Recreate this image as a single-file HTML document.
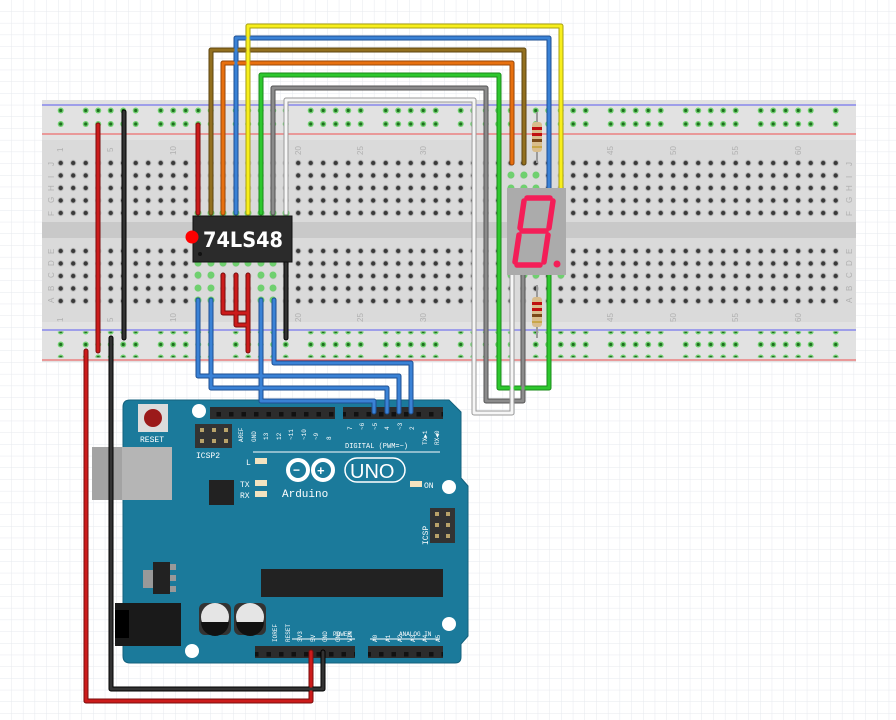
<!DOCTYPE html>
<html><head><meta charset="utf-8"><style>
html,body{margin:0;padding:0;background:#fff}
svg{display:block}
</style></head><body>
<svg width="896" height="720" viewBox="0 0 896 720" xmlns="http://www.w3.org/2000/svg" font-family="Liberation Mono, monospace">
<defs>
<pattern id="grid" width="11.7" height="11.7" patternUnits="userSpaceOnUse">
<path d="M11.7 0V11.7H0" fill="none" stroke="#e6e9ee" stroke-width="1"/>
</pattern>
<pattern id="holes" x="54.45" y="156.75" width="12.5" height="12.5" patternUnits="userSpaceOnUse">
<circle cx="6.25" cy="6.25" r="3.2" fill="#bdbdbd"/><circle cx="6.25" cy="6.25" r="2.2" fill="#3a3a3a"/>
</pattern>
<pattern id="holes2" x="54.45" y="244.75" width="12.5" height="12.5" patternUnits="userSpaceOnUse">
<circle cx="6.25" cy="6.25" r="3.2" fill="#bdbdbd"/><circle cx="6.25" cy="6.25" r="2.2" fill="#3a3a3a"/>
</pattern>
<pattern id="rail" x="79.45" y="0" width="75" height="13" patternUnits="userSpaceOnUse">
<g fill="#6fd06f"><circle cx="6.25" cy="6.5" r="3"/><circle cx="18.75" cy="6.5" r="3"/><circle cx="31.25" cy="6.5" r="3"/><circle cx="43.75" cy="6.5" r="3"/><circle cx="56.25" cy="6.5" r="3"/></g>
<g fill="#1f6e1f"><circle cx="6.25" cy="6.5" r="1.6"/><circle cx="18.75" cy="6.5" r="1.6"/><circle cx="31.25" cy="6.5" r="1.6"/><circle cx="43.75" cy="6.5" r="1.6"/><circle cx="56.25" cy="6.5" r="1.6"/></g>
</pattern>
<pattern id="hdr" width="12.5" height="12" patternUnits="userSpaceOnUse">
<rect width="12.5" height="12" fill="#2c2c2c"/><rect x="4" y="4" width="4.5" height="4.5" fill="#111"/>
</pattern>
</defs>
<rect width="896" height="720" fill="#fff"/>
<rect width="896" height="720" fill="url(#grid)"/>

<rect x="42" y="100" width="814" height="262" fill="#dadada"/>
<rect x="42" y="100" width="814" height="40" fill="#e2e2e2"/>
<rect x="42" y="322" width="814" height="40" fill="#e2e2e2"/>
<rect x="42" y="222" width="814" height="16" fill="#c9c9c9"/>
<line x1="42" y1="105" x2="856" y2="105" stroke="#5a5af0" stroke-width="1"/>
<line x1="42" y1="134" x2="856" y2="134" stroke="#f05050" stroke-width="1"/>
<line x1="42" y1="330" x2="856" y2="330" stroke="#5a5af0" stroke-width="1"/>
<line x1="42" y1="360" x2="856" y2="360" stroke="#f05050" stroke-width="1"/>
<rect x="54" y="105" width="790" height="13" fill="url(#rail)"/>
<rect x="54" y="118" width="790" height="13" fill="url(#rail)" transform="translate(0,0.5)"/>
<rect x="54" y="331.5" width="790" height="13" fill="url(#rail)"/>
<rect x="54" y="344.5" width="790" height="13" fill="url(#rail)"/>
<rect x="54.45" y="156.75" width="787.5" height="62.5" fill="url(#holes)"/>
<rect x="54.45" y="244.75" width="787.5" height="62.5" fill="url(#holes2)"/>
<g fill="#6fd06f">
<circle cx="198" cy="213" r="3.5"/><circle cx="211" cy="213" r="3.5"/><circle cx="223" cy="213" r="3.5"/><circle cx="236" cy="213" r="3.5"/><circle cx="248" cy="213" r="3.5"/><circle cx="261" cy="213" r="3.5"/><circle cx="273" cy="213" r="3.5"/><circle cx="286" cy="213" r="3.5"/>
<circle cx="198" cy="263" r="3.5"/><circle cx="211" cy="263" r="3.5"/><circle cx="223" cy="263" r="3.5"/><circle cx="236" cy="263" r="3.5"/><circle cx="248" cy="263" r="3.5"/><circle cx="261" cy="263" r="3.5"/><circle cx="273" cy="263" r="3.5"/>
<circle cx="198" cy="275" r="3.5"/><circle cx="211" cy="275" r="3.5"/><circle cx="261" cy="275" r="3.5"/><circle cx="273" cy="275" r="3.5"/>
<circle cx="198" cy="288" r="3.5"/><circle cx="211" cy="288" r="3.5"/><circle cx="261" cy="288" r="3.5"/><circle cx="273" cy="288" r="3.5"/>
<circle cx="198" cy="300" r="3.5"/><circle cx="211" cy="300" r="3.5"/><circle cx="261" cy="300" r="3.5"/><circle cx="273" cy="300" r="3.5"/>
<circle cx="511" cy="175" r="3.5"/><circle cx="524" cy="175" r="3.5"/><circle cx="536" cy="175" r="3.5"/>
<circle cx="511" cy="188" r="3.5"/><circle cx="524" cy="188" r="3.5"/><circle cx="536" cy="188" r="3.5"/>
<circle cx="511" cy="275" r="3.5"/><circle cx="524" cy="275" r="3.5"/><circle cx="536" cy="275" r="3.5"/><circle cx="561" cy="275" r="3.5"/>
</g>
<g fill="#b0b0b0" font-size="8" font-family="Liberation Sans,sans-serif">
<text transform="translate(63,152) rotate(-90)">1</text>
<text transform="translate(113,152) rotate(-90)">5</text>
<text transform="translate(176,155) rotate(-90)">10</text>
<text transform="translate(301,155) rotate(-90)">20</text>
<text transform="translate(363,155) rotate(-90)">25</text>
<text transform="translate(426,155) rotate(-90)">30</text>
<text transform="translate(613,155) rotate(-90)">45</text>
<text transform="translate(676,155) rotate(-90)">50</text>
<text transform="translate(738,155) rotate(-90)">55</text>
<text transform="translate(801,155) rotate(-90)">60</text>
<text transform="translate(63,322) rotate(-90)">1</text>
<text transform="translate(113,322) rotate(-90)">5</text>
<text transform="translate(176,322) rotate(-90)">10</text>
<text transform="translate(301,322) rotate(-90)">20</text>
<text transform="translate(363,322) rotate(-90)">25</text>
<text transform="translate(426,322) rotate(-90)">30</text>
<text transform="translate(613,322) rotate(-90)">45</text>
<text transform="translate(676,322) rotate(-90)">50</text>
<text transform="translate(738,322) rotate(-90)">55</text>
<text transform="translate(801,322) rotate(-90)">60</text>
<text transform="translate(54,166) rotate(-90)">J</text><text transform="translate(54,178) rotate(-90)">I</text><text transform="translate(54,191) rotate(-90)">H</text><text transform="translate(54,203) rotate(-90)">G</text><text transform="translate(54,216) rotate(-90)">F</text>
<text transform="translate(54,254) rotate(-90)">E</text><text transform="translate(54,266) rotate(-90)">D</text><text transform="translate(54,278) rotate(-90)">C</text><text transform="translate(54,291) rotate(-90)">B</text><text transform="translate(54,303) rotate(-90)">A</text>
<text transform="translate(852,166) rotate(-90)">J</text><text transform="translate(852,178) rotate(-90)">I</text><text transform="translate(852,191) rotate(-90)">H</text><text transform="translate(852,203) rotate(-90)">G</text><text transform="translate(852,216) rotate(-90)">F</text>
<text transform="translate(852,254) rotate(-90)">E</text><text transform="translate(852,266) rotate(-90)">D</text><text transform="translate(852,278) rotate(-90)">C</text><text transform="translate(852,291) rotate(-90)">B</text><text transform="translate(852,303) rotate(-90)">A</text>
</g>

<path d="M130 400 H449 L461 412 V478 L468 486 V636 L461 644 V657 Q461 663 455 663 H130 Q123 663 123 656 V407 Q123 400 130 400 Z" fill="#1b7a9b" stroke="#14627e" stroke-width="1"/>
<rect x="92" y="447" width="80" height="53" fill="#b5b5b5"/>
<rect x="92" y="447" width="30" height="53" fill="#a3a3a3"/>
<rect x="115" y="603" width="66" height="43" fill="#1a1a1a"/>
<rect x="115" y="610" width="14" height="28" fill="#000"/>
<rect x="138" y="404" width="30" height="28" fill="#dcdcdc"/>
<circle cx="153" cy="418" r="9" fill="#9b1a1a"/>
<text x="140" y="442" font-size="8" fill="#fff">RESET</text>
<circle cx="199" cy="411" r="7" fill="#fff"/>
<circle cx="449" cy="487" r="7" fill="#fff"/>
<circle cx="449" cy="624" r="7" fill="#fff"/>
<circle cx="192" cy="651" r="7" fill="#fff"/>
<rect x="210" y="407" width="125" height="12" fill="url(#hdr)"/>
<rect x="343" y="407" width="100" height="12" fill="url(#hdr)"/>
<rect x="255" y="646" width="100" height="12" fill="url(#hdr)"/>
<rect x="368" y="646" width="75" height="12" fill="url(#hdr)"/>
<rect x="195" y="424" width="37" height="24" fill="#333"/>
<g fill="#b9a36a"><rect x="200" y="428" width="4" height="4"/><rect x="212" y="428" width="4" height="4"/><rect x="224" y="428" width="4" height="4"/><rect x="200" y="439" width="4" height="4"/><rect x="212" y="439" width="4" height="4"/><rect x="224" y="439" width="4" height="4"/></g>
<text x="196" y="458" font-size="8" fill="#fff">ICSP2</text>
<rect x="430" y="508" width="25" height="35" fill="#333"/>
<g fill="#b9a36a"><rect x="435" y="512" width="4" height="4"/><rect x="446" y="512" width="4" height="4"/><rect x="435" y="523" width="4" height="4"/><rect x="446" y="523" width="4" height="4"/><rect x="435" y="534" width="4" height="4"/><rect x="446" y="534" width="4" height="4"/></g>
<text transform="translate(428,545) rotate(-90)" font-size="8" fill="#fff">ICSP</text>
<rect x="209" y="480" width="25" height="25" fill="#222"/>
<rect x="261" y="569" width="182" height="28" fill="#222"/>
<rect x="143" y="570" width="12" height="18" fill="#999"/>
<rect x="153" y="562" width="17" height="32" fill="#222"/>
<rect x="170" y="564" width="6" height="6" fill="#999"/><rect x="170" y="575" width="6" height="6" fill="#999"/><rect x="170" y="586" width="6" height="6" fill="#999"/>
<rect x="199" y="603" width="32" height="32" rx="6" fill="#333"/>
<rect x="234" y="603" width="32" height="32" rx="6" fill="#333"/>
<circle cx="215" cy="617" r="14" fill="#e5e5e5"/><path d="M201 622 A14 14 0 0 0 229 622 Z" fill="#111"/>
<circle cx="250" cy="617" r="14" fill="#e5e5e5"/><path d="M236 622 A14 14 0 0 0 264 622 Z" fill="#111"/>
<line x1="253" y1="452" x2="440" y2="452" stroke="#fff" stroke-width="1"/>
<text x="345" y="448" font-size="7" fill="#fff">DIGITAL (PWM=~)</text>
<rect x="255" y="458" width="12" height="6" fill="#f3e3c0"/><text x="246" y="465" font-size="8" fill="#fff">L</text>
<rect x="255" y="480" width="12" height="6" fill="#f3e3c0"/><text x="240" y="487" font-size="8" fill="#fff">TX</text>
<rect x="255" y="491" width="12" height="6" fill="#f3e3c0"/><text x="240" y="498" font-size="8" fill="#fff">RX</text>
<rect x="410" y="481" width="12" height="6" fill="#f3e3c0"/><text x="424" y="488" font-size="8" fill="#fff">ON</text>
<g fill="none" stroke="#fff" stroke-width="4"><circle cx="298" cy="470" r="10"/><circle cx="323" cy="470" r="10"/></g>
<text x="293" y="474" font-size="12" fill="#fff" font-family="Liberation Sans,sans-serif" font-weight="bold">−</text>
<text x="317" y="475" font-size="13" fill="#fff" font-family="Liberation Sans,sans-serif" font-weight="bold">+</text>
<rect x="345" y="458" width="60" height="24" rx="12" fill="none" stroke="#fff" stroke-width="1.5"/>
<text x="350" y="478" font-size="20" fill="#fff" font-family="Liberation Sans,sans-serif">UNO</text>
<text x="282" y="497" font-size="11" fill="#fff">Arduino</text>
<line x1="292" y1="639" x2="355" y2="639" stroke="#fff" stroke-width="1"/>
<line x1="370" y1="639" x2="440" y2="639" stroke="#fff" stroke-width="1"/>
<text x="333" y="636" font-size="6" fill="#fff">POWER</text>
<text x="399" y="636" font-size="6" fill="#fff">ANALOG IN</text>
<g font-size="6" fill="#fff">
<text transform="translate(277,642) rotate(-90)">IOREF</text><text transform="translate(290,642) rotate(-90)">RESET</text><text transform="translate(302,642) rotate(-90)">3V3</text><text transform="translate(315,642) rotate(-90)">5V</text><text transform="translate(327,642) rotate(-90)">GND</text><text transform="translate(340,642) rotate(-90)">GND</text><text transform="translate(352,642) rotate(-90)">VIN</text>
<text transform="translate(377,642) rotate(-90)">A0</text><text transform="translate(390,642) rotate(-90)">A1</text><text transform="translate(402,642) rotate(-90)">A2</text><text transform="translate(415,642) rotate(-90)">A3</text><text transform="translate(427,642) rotate(-90)">A4</text><text transform="translate(440,642) rotate(-90)">A5</text>
<text transform="translate(243,442) rotate(-90)">AREF</text><text transform="translate(256,442) rotate(-90)">GND</text><text transform="translate(268,440) rotate(-90)">13</text><text transform="translate(281,440) rotate(-90)">12</text><text transform="translate(293,440) rotate(-90)">~11</text><text transform="translate(306,440) rotate(-90)">~10</text><text transform="translate(318,440) rotate(-90)">~9</text><text transform="translate(331,440) rotate(-90)">8</text>
<text transform="translate(352,430) rotate(-90)">7</text><text transform="translate(364,430) rotate(-90)">~6</text><text transform="translate(377,430) rotate(-90)">~5</text><text transform="translate(389,430) rotate(-90)">4</text><text transform="translate(402,430) rotate(-90)">~3</text><text transform="translate(414,430) rotate(-90)">2</text><text transform="translate(427,445) rotate(-90)">TX▶1</text><text transform="translate(439,445) rotate(-90)">RX◀0</text>
</g>

<g>
<line x1="537" y1="112" x2="537" y2="163" stroke="#9a9a9a" stroke-width="2"/>
<rect x="532" y="122" width="10" height="30" rx="3" fill="#d9bd8c"/>
<rect x="532" y="127" width="10" height="3" fill="#c01010"/><rect x="532" y="133" width="10" height="3" fill="#c01010"/><rect x="532" y="139" width="10" height="3" fill="#7a4a1a"/><rect x="532" y="146" width="10" height="2" fill="#c9a74a"/>
<line x1="537" y1="285" x2="537" y2="338" stroke="#9a9a9a" stroke-width="2"/>
<rect x="532" y="297" width="10" height="30" rx="3" fill="#d9bd8c"/>
<rect x="532" y="302" width="10" height="3" fill="#c01010"/><rect x="532" y="308" width="10" height="3" fill="#c01010"/><rect x="532" y="314" width="10" height="3" fill="#7a4a1a"/><rect x="532" y="321" width="10" height="2" fill="#c9a74a"/>
</g>

<g fill="none" stroke-width="5" stroke-linejoin="round" stroke-linecap="round">
<polyline stroke="#7a0c0c" points="98,125 98,351"/>
<polyline stroke="#000" points="124,112 124,338"/>
<polyline stroke="#7a0c0c" points="86,351 86,701 311,701 311,652"/>
<polyline stroke="#000" points="111,338 111,689 323,689 323,652"/>
<polyline stroke="#7a0c0c" points="198,213 198,125"/>
<polyline stroke="#5e4510" points="211,213 211,50 524,50 524,163"/>
<polyline stroke="#9a4708" points="223,213 223,63 512,63 512,163"/>
<polyline stroke="#1d4f92" points="236,213 236,38 549,38 549,188"/>
<polyline stroke="#a8a010" points="248,213 248,26 561,26 561,188"/>
<polyline stroke="#1a8a1a" points="261,213 261,75 499,75 499,388 549,388 549,275"/>
<polyline stroke="#555" points="273,213 273,88 486,88 486,401 523,401 523,275"/>
<polyline stroke="#999" points="286,213 286,100 474,100 474,413 512,413 512,275"/>
<polyline stroke="#000" points="286,262 286,338"/>
<polyline stroke="#7a0c0c" points="223,275 223,313 248,313"/>
<polyline stroke="#7a0c0c" points="236,275 236,325 248,325"/>
<polyline stroke="#7a0c0c" points="248,275 248,351"/>
<polyline stroke="#1d4f92" points="198,300 198,376 399,376 399,412"/>
<polyline stroke="#1d4f92" points="211,300 211,388 387,388 387,412"/>
<polyline stroke="#1d4f92" points="261,300 261,401 374,401 374,412"/>
<polyline stroke="#1d4f92" points="274,300 274,363 411,363 411,412"/>
</g>
<g fill="none" stroke-width="3" stroke-linejoin="round" stroke-linecap="round">
<polyline stroke="#cc1b1b" points="98,125 98,351"/>
<polyline stroke="#333" points="124,112 124,338"/>
<polyline stroke="#cc1b1b" points="86,351 86,701 311,701 311,652"/>
<polyline stroke="#333" points="111,338 111,689 323,689 323,652"/>
<polyline stroke="#cc1b1b" points="198,213 198,125"/>
<polyline stroke="#93701f" points="211,213 211,50 524,50 524,163"/>
<polyline stroke="#e8700f" points="223,213 223,63 512,63 512,163"/>
<polyline stroke="#3a82d6" points="236,213 236,38 549,38 549,188"/>
<polyline stroke="#f8ef1c" points="248,213 248,26 561,26 561,188"/>
<polyline stroke="#2ec82e" points="261,213 261,75 499,75 499,388 549,388 549,275"/>
<polyline stroke="#8c8c8c" points="273,213 273,88 486,88 486,401 523,401 523,275"/>
<polyline stroke="#f6f6f6" points="286,213 286,100 474,100 474,413 512,413 512,275"/>
<polyline stroke="#333" points="286,262 286,338"/>
<polyline stroke="#cc1b1b" points="223,275 223,313 248,313"/>
<polyline stroke="#cc1b1b" points="236,275 236,325 248,325"/>
<polyline stroke="#cc1b1b" points="248,275 248,351"/>
<polyline stroke="#3a82d6" points="198,300 198,376 399,376 399,412"/>
<polyline stroke="#3a82d6" points="211,300 211,388 387,388 387,412"/>
<polyline stroke="#3a82d6" points="261,300 261,401 374,401 374,412"/>
<polyline stroke="#3a82d6" points="274,300 274,363 411,363 411,412"/>
</g>

<rect x="193" y="216" width="99" height="46" fill="#2b2b2b" stroke="#111" stroke-width="1"/>
<circle cx="200" cy="254" r="2" fill="#111"/>
<circle cx="192" cy="237" r="6.5" fill="#ff0000"/>
<text x="203" y="247" font-size="21" font-weight="bold" fill="#fff" font-family="DejaVu Sans, Liberation Sans, sans-serif" textLength="80" lengthAdjust="spacingAndGlyphs">74LS48</text>

<rect x="507" y="188" width="59" height="87" fill="#ababab"/>
<g stroke="#f41e58" stroke-width="5.5" stroke-linecap="round" fill="none">
<line x1="527" y1="198" x2="550" y2="198"/>
<line x1="553" y1="201" x2="549" y2="228"/>
<line x1="548" y1="235" x2="544" y2="262"/>
<line x1="540" y1="265" x2="517" y2="265"/>
<line x1="515" y1="262" x2="519" y2="235"/>
<line x1="520" y1="228" x2="524" y2="201"/>
<line x1="522" y1="231" x2="546" y2="231"/>
</g>
<circle cx="557" cy="264" r="3.5" fill="#f41e58"/>
</svg>
</body></html>
